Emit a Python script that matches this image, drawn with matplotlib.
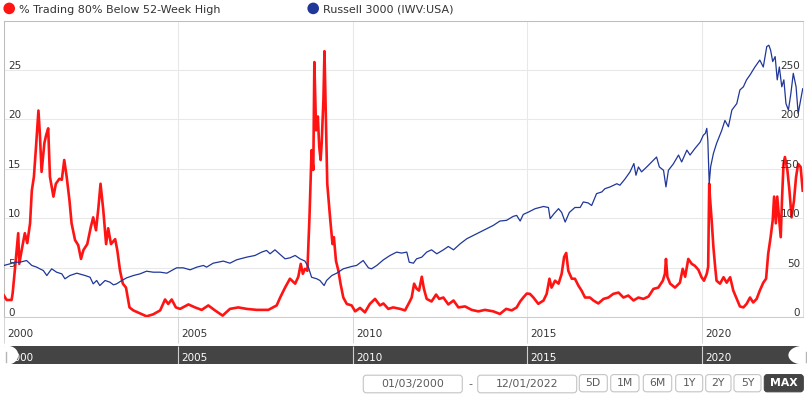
import matplotlib
matplotlib.use("Agg")
import matplotlib.pyplot as plt
from matplotlib.patches import FancyBboxPatch, Ellipse, Circle, Rectangle

# ---------------- data ----------------
series_names = ["% Trading 80% Below 52-Week High", "Russell 3000 (IWV:USA)"]

red_years = [
    2000.00, 2000.08, 2000.22, 2000.25, 2000.32, 2000.41, 2000.44, 2000.51, 2000.60, 2000.67,
    2000.75, 2000.80, 2000.86, 2000.92, 2000.99, 2001.03, 2001.08, 2001.16, 2001.21, 2001.27,
    2001.32, 2001.42, 2001.49, 2001.59, 2001.66, 2001.73, 2001.80, 2001.88, 2001.94, 2002.04,
    2002.13, 2002.21, 2002.28, 2002.39, 2002.49, 2002.56, 2002.64, 2002.71, 2002.77, 2002.85,
    2002.93, 2002.99, 2003.07, 2003.19, 2003.25, 2003.33, 2003.41, 2003.50, 2003.60, 2003.71,
    2003.90, 2004.09, 2004.28, 2004.48, 2004.62, 2004.71, 2004.81, 2004.93,
    2005.05, 2005.29, 2005.48, 2005.67, 2005.86, 2006.05, 2006.27, 2006.48, 2006.72, 2006.96,
    2007.25, 2007.58, 2007.82, 2007.92, 2008.06, 2008.20, 2008.35, 2008.44, 2008.51, 2008.57,
    2008.63, 2008.70, 2008.76, 2008.82, 2008.87, 2008.90, 2008.95, 2009.00, 2009.04, 2009.08,
    2009.11, 2009.16, 2009.19, 2009.23, 2009.27, 2009.35, 2009.42, 2009.46, 2009.52, 2009.59,
    2009.65, 2009.73, 2009.83, 2009.97,
    2010.07, 2010.21, 2010.35, 2010.49, 2010.64, 2010.78, 2010.88, 2011.02, 2011.16, 2011.36,
    2011.50, 2011.62, 2011.69, 2011.76, 2011.83, 2011.90, 2011.98, 2012.04, 2012.12, 2012.26,
    2012.39, 2012.48, 2012.60, 2012.74, 2012.89, 2013.03, 2013.22, 2013.41, 2013.60, 2013.79,
    2014.03, 2014.22, 2014.40, 2014.56, 2014.70, 2014.80, 2014.89, 2014.99,
    2015.08, 2015.18, 2015.32, 2015.47, 2015.56, 2015.64, 2015.70, 2015.80, 2015.90, 2015.99,
    2016.06, 2016.12, 2016.18, 2016.28, 2016.37, 2016.47, 2016.56, 2016.66, 2016.80, 2016.90,
    2017.04, 2017.19, 2017.33, 2017.47, 2017.62, 2017.76, 2017.90, 2018.05, 2018.19, 2018.33,
    2018.48, 2018.62, 2018.76, 2018.89, 2018.95, 2018.98, 2019.02, 2019.10, 2019.24, 2019.38,
    2019.46, 2019.53, 2019.62, 2019.72, 2019.81, 2019.91,
    2020.00, 2020.07, 2020.15, 2020.19, 2020.22, 2020.24, 2020.29, 2020.34, 2020.39, 2020.43,
    2020.53, 2020.63, 2020.72, 2020.82, 2020.91, 2021.01, 2021.10, 2021.20, 2021.29, 2021.39,
    2021.48, 2021.58, 2021.67, 2021.77, 2021.85, 2021.91, 2021.98, 2022.04, 2022.08, 2022.13,
    2022.17, 2022.23, 2022.27, 2022.31, 2022.35, 2022.39, 2022.46, 2022.52, 2022.58, 2022.65,
    2022.71, 2022.77, 2022.84, 2022.90,
]
red_values = [
    2.2, 1.75, 1.75, 2.4, 5.0, 8.5, 5.4, 6.8, 8.5, 7.5,
    9.5, 12.8, 14.2, 17.2, 20.9, 18.6, 14.7, 17.6, 18.4, 19.1,
    14.2, 12.2, 13.5, 14.0, 13.9, 15.9, 14.2, 11.8, 9.5, 7.8,
    7.3, 5.9, 6.8, 7.4, 9.1, 10.1, 8.8, 11.1, 13.5, 10.8,
    7.4, 9.0, 7.4, 7.9, 6.8, 4.7, 3.4, 3.0, 1.0, 0.7,
    0.4, 0.1, 0.3, 0.7, 1.8, 1.35, 1.8, 1.0,
    0.85, 1.3, 1.0, 0.75, 1.2, 0.7, 0.17, 0.85, 1.0, 0.85,
    0.75, 0.75, 1.2, 2.0, 3.0, 3.9, 3.4, 4.1, 5.4, 4.4,
    4.9, 4.7, 10.1, 16.9, 14.9, 25.8, 18.9, 20.3, 17.2, 15.9,
    17.6, 22.0, 26.9, 20.3, 13.5, 10.1, 7.4, 8.1, 5.7, 4.7,
    3.4, 2.0, 1.35, 1.2,
    0.6, 0.95, 0.5, 1.35, 1.86, 1.2, 1.4, 0.85, 1.0, 0.85,
    0.7, 1.5, 2.0, 3.4, 2.9, 2.7, 4.1, 2.9, 1.86, 1.6,
    2.3, 1.86, 2.0, 1.3, 1.7, 1.0, 1.1, 0.75, 0.6, 0.75,
    0.6, 0.34, 0.85, 0.7, 1.0, 1.6, 2.0, 2.4,
    2.37, 2.0, 1.36, 1.7, 2.37, 3.9, 3.0, 3.7, 3.4, 4.4,
    6.1, 6.5, 4.7, 3.9, 3.9, 3.2, 2.7, 2.0, 2.0, 1.7,
    1.4, 1.86, 2.0, 2.37, 2.5, 2.0, 2.2, 1.7, 2.0, 1.86,
    2.1, 2.87, 3.0, 3.7, 4.4, 5.9, 4.1, 3.4, 3.0, 3.5,
    4.9, 4.1, 5.9, 5.4, 5.2, 4.8,
    4.05, 3.7, 4.4, 5.1, 13.5, 12.2, 9.8, 7.1, 5.1, 3.7,
    3.4, 4.05, 3.5, 4.05, 2.7, 1.86, 1.1, 1.0, 1.35, 2.0,
    1.5, 1.86, 2.7, 3.5, 3.9, 6.4, 8.1, 9.8, 12.2, 9.5,
    12.2, 9.8, 8.1, 12.2, 15.5, 16.2, 14.9, 12.8, 10.1, 11.8,
    14.2, 15.5, 15.2, 12.8,
]

blue_years = [
    2000.00, 2000.17, 2000.32, 2000.46, 2000.65, 2000.80, 2000.94, 2001.03, 2001.13, 2001.23,
    2001.37, 2001.51, 2001.66, 2001.75, 2001.89, 2002.09, 2002.33, 2002.47, 2002.56, 2002.66,
    2002.75, 2002.90, 2003.04, 2003.14, 2003.23, 2003.38, 2003.52, 2003.71, 2003.90, 2004.09,
    2004.28, 2004.48, 2004.67, 2004.81, 2004.95, 2005.14, 2005.34, 2005.53, 2005.72, 2005.81,
    2006.00, 2006.29, 2006.48, 2006.67, 2006.96, 2007.20, 2007.39, 2007.53, 2007.63, 2007.77,
    2007.92, 2008.06, 2008.20, 2008.35, 2008.49, 2008.63, 2008.73, 2008.82, 2008.97, 2009.06,
    2009.18, 2009.25, 2009.40, 2009.54, 2009.73, 2009.97, 2010.11, 2010.30, 2010.45, 2010.54,
    2010.69, 2010.88, 2011.07, 2011.26, 2011.40, 2011.55, 2011.62, 2011.74, 2011.83, 2011.98,
    2012.12, 2012.26, 2012.41, 2012.60, 2012.74, 2012.89, 2013.08, 2013.27, 2013.46, 2013.65,
    2013.84, 2014.03, 2014.22, 2014.41, 2014.60, 2014.70, 2014.80, 2014.89, 2015.04, 2015.23,
    2015.47, 2015.61, 2015.66, 2015.77, 2015.90, 2015.99, 2016.09, 2016.21, 2016.37, 2016.52,
    2016.61, 2016.75, 2016.85, 2016.99, 2017.14, 2017.23, 2017.38, 2017.57, 2017.66, 2017.81,
    2017.95, 2018.06, 2018.12, 2018.19, 2018.28, 2018.43, 2018.57, 2018.71, 2018.79, 2018.91,
    2018.98, 2019.05, 2019.19, 2019.34, 2019.43, 2019.58, 2019.67, 2019.81, 2019.96, 2020.05,
    2020.11, 2020.15, 2020.18, 2020.22, 2020.26, 2020.34, 2020.43, 2020.58, 2020.67, 2020.77,
    2020.87, 2021.01, 2021.10, 2021.20, 2021.29, 2021.39, 2021.53, 2021.67, 2021.77, 2021.87,
    2021.93, 2021.98, 2022.04, 2022.11, 2022.17, 2022.23, 2022.30, 2022.36, 2022.42, 2022.49,
    2022.56, 2022.63, 2022.71, 2022.77, 2022.84, 2022.90,
]
blue_values = [
    52.4, 54.0, 55.7, 55.7, 57.4, 52.4, 50.7, 49.0, 47.3, 42.2,
    49.0, 45.6, 43.9, 38.9, 42.2, 44.6, 42.2, 40.5, 33.8, 37.2,
    32.1, 37.2, 35.5, 32.8, 33.8, 37.2, 39.9, 42.2, 43.9, 46.6,
    45.6, 45.6, 44.6, 47.3, 50.0, 50.0, 48.0, 50.7, 52.4, 50.7,
    54.7, 56.8, 54.7, 58.1, 60.8, 62.5, 65.9, 67.6, 64.2, 68.2,
    63.5, 59.1, 60.1, 62.5, 59.1, 56.8, 50.7, 40.5, 38.9, 37.2,
    32.1, 37.2, 42.2, 44.6, 49.0, 51.4, 52.4, 57.4, 50.0, 49.0,
    52.4, 58.1, 62.5, 65.9, 64.9, 65.9, 55.7, 54.7, 59.1, 60.8,
    65.9, 68.2, 64.2, 68.2, 71.6, 68.2, 74.3, 79.4, 82.8, 86.1,
    89.5, 92.9, 97.3, 98.0, 102.0, 103.0, 97.3, 104.0, 106.4, 109.8,
    112.0, 111.0, 99.7, 104.7, 109.8, 106.0, 96.3, 106.0, 111.0, 111.0,
    116.6, 115.6, 113.0, 125.0, 126.7, 130.0, 131.8, 135.0, 133.5, 140.0,
    147.0, 155.4, 143.6, 152.0, 147.0, 152.0, 157.0, 162.0, 152.0, 148.6,
    131.8, 148.6, 155.0, 164.0, 157.0, 169.0, 164.0, 170.6, 177.0, 184.0,
    186.0, 191.0, 179.0, 135.0, 152.0, 165.6, 175.7, 189.0, 199.0, 192.6,
    209.5, 216.0, 229.8, 233.0, 240.0, 245.0, 253.0, 260.0, 253.0, 273.7,
    275.0, 270.0, 258.5, 263.5, 240.0, 253.0, 233.0, 240.0, 216.0, 209.5,
    226.0, 246.6, 233.0, 206.0, 219.6, 231.0,
]

x_start, x_end = 2000.0, 2022.92
left_ticks = [0, 5, 10, 15, 20, 25]
right_ticks = [0, 50, 100, 150, 200, 250]
year_ticks = [2000, 2005, 2010, 2015, 2020]
date_from, date_to = "01/03/2000", "12/01/2022"
range_buttons = ["5D", "1M", "6M", "1Y", "2Y", "5Y", "MAX"]

# ---------------- style ----------------
RED = "#ff1414"
BLUE = "#1f3799"
TXT = "#333333"
W, H = 807, 398
plt.rcParams["font.family"] = ["DejaVu Sans"]

fig = plt.figure(figsize=(W / 100, H / 100), dpi=100)
fig.patch.set_facecolor("white")

L, R, T, B = 3.9, 803.4, 20.5, 317.3
ax = fig.add_axes([L / W, 1 - B / H, (R - L) / W, (B - T) / H])
ax2 = ax.twinx()

ax.set_xlim(x_start, x_end)
ax.set_ylim(0, 30)
ax.set_xticks(year_ticks)
ax.set_yticks(left_ticks)
ax.grid(True, color="#e8e8e8", lw=0.75)
ax.set_axisbelow(True)
ax.tick_params(axis="x", direction="out", length=18.5, width=0.75,
               color="#d6d6d6", labelbottom=False)
ax.tick_params(axis="y", left=False, right=False, labelleft=False, labelright=False)
for s in ["left", "top"]:
    ax.spines[s].set_color("#bdbdbd")
    ax.spines[s].set_linewidth(0.75)
ax.spines["bottom"].set_color("#cccccc")
ax.spines["bottom"].set_linewidth(0.75)
ax.spines["right"].set_color("#e0e0e0")
ax.spines["right"].set_linewidth(0.75)

ax2.set_ylim(0, 300)
ax2.set_yticks(right_ticks)
ax2.tick_params(axis="y", left=False, right=False, labelleft=False, labelright=False)
for s in ax2.spines.values():
    s.set_visible(False)

ax.plot(red_years, red_values, color=RED, lw=1.9, solid_joinstyle="round", zorder=3)
ax2.plot(blue_years, blue_values, color=BLUE, lw=0.9, zorder=3)

for v in left_ticks:
    ax.annotate(f"{v}", xy=(0, v), xycoords=("axes fraction", "data"),
                xytext=(4.4, 1), textcoords="offset pixels", ha="left",
                va="baseline", fontsize=7.5, color=TXT, zorder=6)
for v in right_ticks:
    ax2.annotate(f"{v}", xy=(1, v), xycoords=("axes fraction", "data"),
                 xytext=(-3.4, 1), textcoords="offset pixels", ha="right",
                 va="baseline", fontsize=7.5, color=TXT, zorder=6)
for yv in year_ticks:
    ax.annotate(f"{yv}", xy=(yv, 0), xycoords=("data", "axes fraction"),
                xytext=(3.4, -19.4), textcoords="offset pixels", ha="left",
                va="baseline", fontsize=7.5, color=TXT, annotation_clip=False)

# ---------------- navigator ----------------
NT, NB = 346.0, 364.3
nav = fig.add_axes([L / W, 1 - NB / H, (R - L) / W, (NB - NT) / H], zorder=5)
nav.set_xlim(x_start, x_end)
nav.set_ylim(0, 1)
nav.set_facecolor("#444444")
nav.set_xticks([])
nav.set_yticks([])
for s in nav.spines.values():
    s.set_visible(False)
nav.vlines(year_ticks[1:], 0, 1, color="#cfcfcf", lw=0.8)
for yv in year_ticks:
    nav.annotate(f"{yv}", xy=(yv, 0), xycoords=("data", "axes fraction"),
                 xytext=(3.4, 3.6), textcoords="offset pixels", ha="left",
                 va="baseline", fontsize=7.5, color="white")

# ---------------- overlay (legend, handles, buttons) ----------------
ov = fig.add_axes([0, 0, 1, 1], zorder=10)
ov.set_xlim(0, W)
ov.set_ylim(H, 0)
ov.axis("off")
ov.patch.set_alpha(0)

# navigator handles
ov.add_patch(Ellipse((7.3, (NT + NB) / 2), 22, NB - NT + 0.6, facecolor="white", edgecolor="none"))
ov.add_patch(Ellipse((803.4, (NT + NB) / 2), 30, NB - NT + 0.6, facecolor="white", edgecolor="none"))
ov.add_patch(Rectangle((803.4, NT - 1), 10, NB - NT + 2, facecolor="white", edgecolor="none"))
ov.plot([6.0, 6.0], [351.7, 361.7], color="#b5b5b5", lw=1.0)
ov.plot([805.5, 805.5], [351.7, 361.7], color="#b5b5b5", lw=1.0)

# legend
legend_pos = [(9.2, 19.3), (313.2, 323.3)]
for (cx, tx), name, col in zip(legend_pos, series_names, [RED, BLUE]):
    ov.add_patch(Circle((cx, 8.4), 5.8, facecolor=col, edgecolor="none"))
    ov.text(tx, 12.6, name, ha="left", va="baseline", fontsize=8, color=TXT)

# date inputs
BTN_TXT = "#5a5a5a"
for (x0, x1), label in zip([(363.3, 462.3), (477.7, 576.7)], [date_from, date_to]):
    ov.add_patch(FancyBboxPatch((x0, 375.2), x1 - x0, 17.6,
                                boxstyle="round,pad=0,rounding_size=3",
                                facecolor="white", edgecolor="#c4c4c4", lw=0.8))
    ov.text((x0 + x1) / 2, 384.2, label, ha="center", va="center",
            fontsize=7.8, color=BTN_TXT)
ov.text(470.7, 384.0, "-", ha="center", va="center", fontsize=8, color=BTN_TXT)

btn_x = [(579.3, 607.3), (610.7, 639.0), (643.3, 671.7), (675.7, 702.7),
         (705.7, 731.0), (734.0, 761.0), (764.3, 803.3)]
for (x0, x1), label in zip(btn_x, range_buttons):
    active = label == "MAX"
    ov.add_patch(FancyBboxPatch((x0, 374.6), x1 - x0, 17.2,
                                boxstyle="round,pad=0,rounding_size=3",
                                facecolor="#444444" if active else "white",
                                edgecolor="#444444" if active else "#c4c4c4", lw=0.8))
    ov.text((x0 + x1) / 2, 383.4, label, ha="center", va="center",
            fontsize=7.8, color="white" if active else BTN_TXT,
            fontweight="bold" if active else "normal")

fig.savefig("out.png", dpi=100, facecolor="white")
